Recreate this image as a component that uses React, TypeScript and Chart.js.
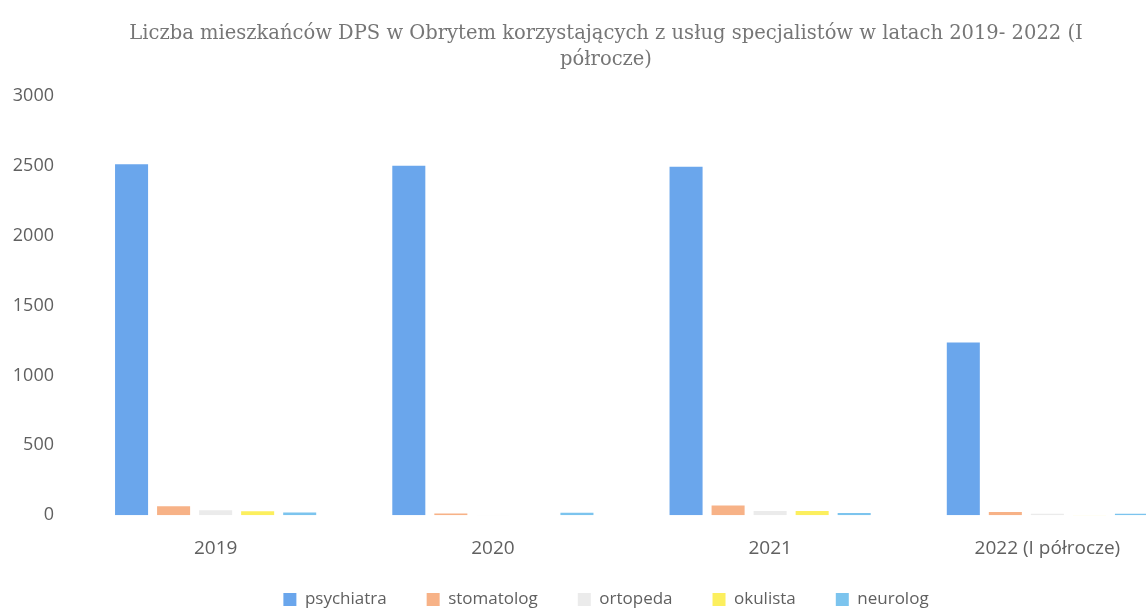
import React, { useEffect, useRef } from "react";
import { Chart, registerables } from "chart.js";

Chart.register(...registerables);

const categories = ["2019", "2020", "2021", "2022 (I półrocze)"];
const seriesNames = ["psychiatra", "stomatolog", "ortopeda", "okulista", "neurolog"];
const psychiatra = [2510, 2500, 2492, 1235];
const stomatolog = [64, 12, 70, 22];
const ortopeda = [35, 2, 30, 10];
const okulista = [28, 0, 30, 2];
const neurolog = [20, 18, 15, 10];
const colors = ["#6aa6ec", "#f7b287", "#ebebeb", "#fcef5e", "#7cc4ee"];
const titleLines = [
  "Liczba mieszkańców DPS w Obrytem korzystających z usług specjalistów w latach 2019- 2022 (I",
  "półrocze)",
];
const yTicks = [0, 500, 1000, 1500, 2000, 2500, 3000];

// the original chart is cropped on the right side
const CANVAS_W = 1186;
const VIEW_W = 1146;
const VIEW_H = 611;
const LEGEND_BOX_H = 37;
const LEGEND_ITEM_Y = 591;
const CENTER_SHIFT = 26;

const layoutTweaks = {
  id: "layoutTweaks",
  beforeInit(chart: any) {
    const lg = chart.legend;
    if (!lg) return;
    const orig = lg.fit;
    lg.fit = function () {
      orig.call(this);
      this.height = LEGEND_BOX_H;
    };
  },
  afterLayout(chart: any) {
    const lg = chart.legend;
    if (lg) {
      const pad = lg.options.labels.padding;
      lg.top = LEGEND_ITEM_Y - pad;
      lg.left = lg.left + CENTER_SHIFT;
    }
    const tb = chart.titleBlock;
    if (tb) {
      tb.left = tb.left + CENTER_SHIFT;
    }
  },
};

export default function App() {
  const ref = useRef<HTMLCanvasElement | null>(null);
  useEffect(() => {
    document.body.style.margin = "0";
    const values = [psychiatra, stomatolog, ortopeda, okulista, neurolog];
    const chart = new Chart(ref.current!, {
      type: "bar",
      data: {
        labels: categories,
        datasets: seriesNames.map((n, i) => ({
          label: n,
          data: values[i],
          backgroundColor: colors[i],
          borderWidth: 0,
          categoryPercentage: 0.758,
          barPercentage: 0.786,
        })),
      },
      plugins: [layoutTweaks],
      options: {
        responsive: false,
        animation: false,
        layout: { padding: { left: 0, right: 0, top: 10, bottom: 0 } },
        plugins: {
          title: {
            display: true,
            text: titleLines,
            color: "#767676",
            font: { family: "'DejaVu Serif', serif", size: 19.5, weight: "normal", lineHeight: 1.38 },
            padding: { top: 10, bottom: 22 },
          },
          legend: {
            position: "bottom",
            labels: {
              color: "#606060",
              font: { family: "'Open Sans', sans-serif", size: 17 },
              boxWidth: 13,
              boxHeight: 13,
              padding: 40,
            },
          },
          tooltip: { enabled: false },
        },
        scales: {
          x: {
            grid: { display: false },
            border: { display: false },
            ticks: {
              color: "#606060",
              padding: 14,
              font: { family: "'Open Sans', sans-serif", size: 19 },
            },
          },
          y: {
            min: 0,
            max: 3000,
            afterBuildTicks: (s: any) => {
              s.ticks = yTicks.map((v) => ({ value: v }));
            },
            afterFit: (s: any) => {
              s.width = 77;
            },
            grid: { display: false },
            border: { display: false },
            ticks: {
              color: "#606060",
              padding: 15,
              callback: (v: any) => String(v),
              font: { family: "'Open Sans', sans-serif", size: 18 },
            },
          },
        },
      },
    });
    return () => chart.destroy();
  }, []);
  return (
    <div style={{ width: VIEW_W, height: VIEW_H, overflow: "hidden" }}>
      <canvas ref={ref} width={CANVAS_W} height={VIEW_H} style={{ display: "block" }} />
    </div>
  );
}
